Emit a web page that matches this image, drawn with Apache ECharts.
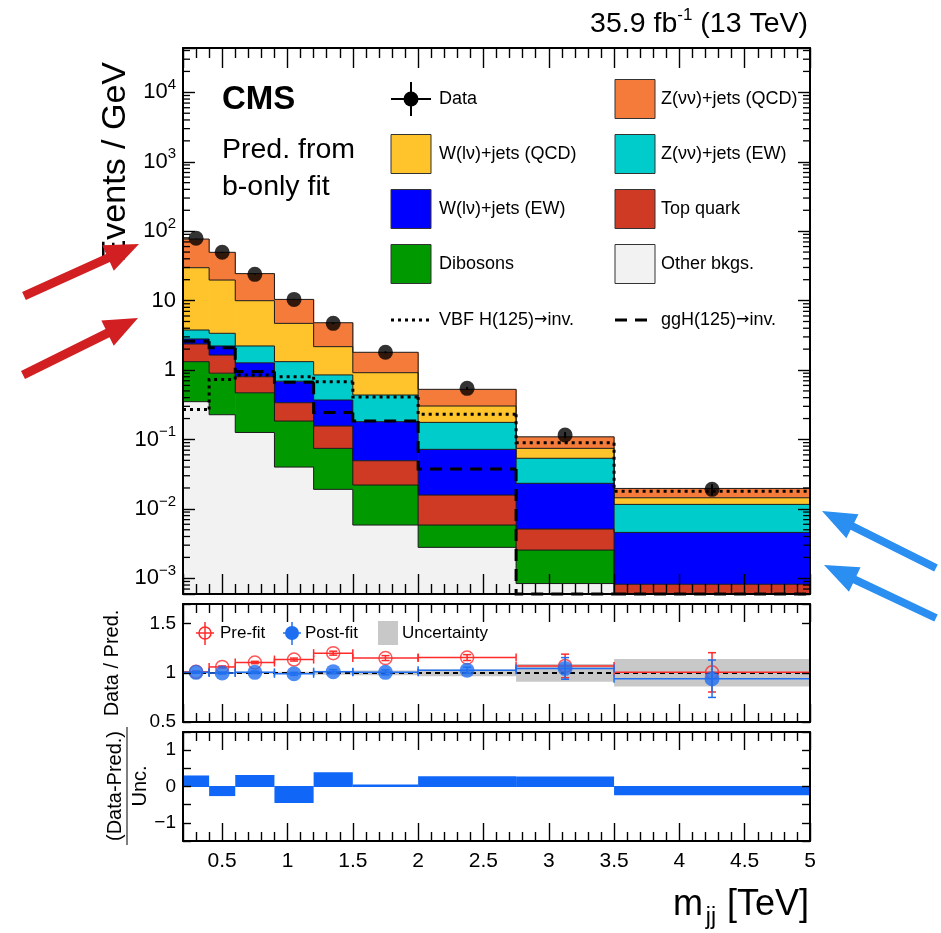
<!DOCTYPE html>
<html>
<head>
<meta charset="utf-8">
<title>m_jj distribution, VBF H(125) to invisible search</title>
<script src="https://cdn.jsdelivr.net/npm/echarts@6.0.0/dist/echarts.min.js"></script>
<style>
html, body { margin: 0; padding: 0; background: #ffffff; }
#chart { width: 941px; height: 933px; }
</style>
</head>
<body>
<div id="chart"></div>
<script>
// m_jj bin edges (TeV)
const binEdges = [0.2, 0.4, 0.6, 0.9, 1.2, 1.5, 2.0, 2.75, 3.5, 5.0];

// Background predictions from the b-only fit, Events / GeV, listed bottom to top of the stack
const otherBkgs = [0.35, 0.227, 0.126, 0.040, 0.0191, 0.00585, 0.00279, 0.00084, 0.0002];
const dibosons  = [0.97, 0.673, 0.344, 0.144, 0.0553, 0.0162, 0.00306, 0.00171, 0.0002];
const topQuark  = [1.05, 0.74, 0.33, 0.154, 0.0816, 0.0273, 0.00995, 0.00257, 0.00042];
const wlnuEW    = [0.43, 0.58, 0.47, 0.352, 0.214, 0.131, 0.0562, 0.0182, 0.00376];
const znunuEW   = [0.97, 1.16, 0.95, 0.63, 0.48, 0.256, 0.104, 0.0302, 0.00702];
const wlnuQCD   = [26.0, 16.4, 7.75, 3.38, 1.32, 0.479, 0.127, 0.0209, 0.00285];
const znunuQCD  = [47.2, 29.8, 14.5, 5.7, 2.63, 0.885, 0.224, 0.0346, 0.00525];

// Observed data, Events / GeV
const dataYield = [79, 49.7, 23.9, 10.4, 4.7, 1.80, 0.545, 0.116, 0.0191];
const dataErr   = [0.6, 0.5, 0.28, 0.19, 0.13, 0.06, 0.027, 0.012, 0.0036];

// Signal templates, Events / GeV
const vbfSignal = [0.27, 0.73, 0.85, 0.80, 0.68, 0.41, 0.23, 0.0897, 0.018];
const ggHSignal = [2.6, 2.1, 0.95, 0.665, 0.245, 0.184, 0.0374, 0.0004, 0.0003];

// Data / prediction ratios
const prefitRatio  = [1.01, 1.06, 1.105, 1.135, 1.20, 1.15, 1.155, 1.07, 1.005];
const prefitErr    = [0.008, 0.01, 0.012, 0.015, 0.02, 0.025, 0.03, 0.12, 0.20];
const postfitRatio = [1.005, 0.998, 1.005, 0.99, 1.012, 1.005, 1.027, 1.045, 0.94];
const postfitErr   = [0.008, 0.01, 0.012, 0.015, 0.02, 0.025, 0.03, 0.11, 0.19];
const uncBand      = [0.008, 0.008, 0.01, 0.012, 0.02, 0.025, 0.035, 0.09, 0.14];

// (Data - Pred.) / Unc.
const pullValues = [0.29, -0.25, 0.3, -0.44, 0.38, 0.04, 0.27, 0.26, -0.23];

const FONT = '"Liberation Sans", Arial, Helvetica, sans-serif';
const ARROW_FONT = '"DejaVu Sans", sans-serif';
const Y_MIN = 5.94e-4, Y_MAX = 4.35e4;

const COLORS = {
  other: '#f2f2f2', diboson: '#009a00', top: '#cf3a24', wEW: '#0000ff',
  zEW: '#00cccc', wQCD: '#ffc32b', zQCD: '#f47b3a',
  pre: '#ff2a2a', post: '#1f6ff0', pull: '#0f66f7', band: '#c8c8c8'
};

const stackLayers = [
  { name: 'Other bkgs.', values: otherBkgs, color: COLORS.other },
  { name: 'Dibosons', values: dibosons, color: COLORS.diboson },
  { name: 'Top quark', values: topQuark, color: COLORS.top },
  { name: 'W(lν)+jets (EW)', values: wlnuEW, color: COLORS.wEW },
  { name: 'Z(νν)+jets (EW)', values: znunuEW, color: COLORS.zEW },
  { name: 'W(lν)+jets (QCD)', values: wlnuQCD, color: COLORS.wQCD },
  { name: 'Z(νν)+jets (QCD)', values: znunuQCD, color: COLORS.zQCD }
];

// minor tick positions of the log axis (2..9 x 10^k)
const logMinorTicks = [];
for (let k = -4; k <= 4; k++) {
  for (let m = 2; m <= 9; m++) {
    const v = m * Math.pow(10, k);
    if (v > Y_MIN && v < Y_MAX) logMinorTicks.push(v);
  }
}

const clampY = (y, cs) => Math.min(Math.max(y, cs.y), cs.y + cs.height);

// ---------- series ----------
const series = [];

// stacked backgrounds: filled bins plus the step contour of each cumulative histogram
let base = binEdges.slice(0, -1).map(() => 0);
stackLayers.forEach(layer => {
  const tops = base.map((b, i) => b + layer.values[i]);
  const rows = layer.values.map((v, i) => [binEdges[i], binEdges[i + 1], base[i], tops[i], i > 0 ? tops[i - 1] : 0]);
  base = tops;
  series.push({
    type: 'custom', name: layer.name, xAxisIndex: 0, yAxisIndex: 0, z: 2,
    data: rows,
    renderItem: (params, api) => {
      const cs = params.coordSys;
      const lo = Math.max(api.value(2), Y_MIN), hi = Math.max(api.value(3), Y_MIN);
      const prev = Math.max(api.value(4), Y_MIN);
      const pA = api.coord([api.value(0), hi]);
      const pB = api.coord([api.value(1), lo]);
      const yTop = clampY(pA[1], cs), yBot = clampY(pB[1], cs);
      const yPrev = clampY(api.coord([api.value(0), prev])[1], cs);
      const right = Math.min(pB[0] + 0.6, cs.x + cs.width);
      const children = [];
      if (yBot - yTop > 0) {
        children.push({
          type: 'rect', z2: 0,
          shape: { x: pA[0], y: yTop, width: right - pA[0], height: yBot - yTop },
          style: { fill: layer.color }
        });
      }
      children.push({
        type: 'polyline', z2: 10,
        shape: { points: [[pA[0], yPrev], [pA[0], yTop], [pB[0], yTop]] },
        style: { stroke: '#1a1a1a', lineWidth: 1, fill: null }
      });
      return { type: 'group', children };
    }
  });
});

// signal step lines
function signalSeries(name, values, dash) {
  return {
    type: 'custom', name, xAxisIndex: 0, yAxisIndex: 0, z: 4,
    data: values.map((v, i) => [binEdges[i], binEdges[i + 1], i > 0 ? values[i - 1] : v, v]),
    renderItem: (params, api) => {
      const cs = params.coordSys;
      const yPrev = clampY(api.coord([api.value(0), api.value(2)])[1], cs);
      const pL = api.coord([api.value(0), api.value(3)]);
      const pR = api.coord([api.value(1), api.value(3)]);
      const y = clampY(pL[1], cs);
      return {
        type: 'polyline',
        shape: { points: [[pL[0], yPrev], [pL[0], y], [pR[0], y]] },
        style: { stroke: '#000', lineWidth: 3, fill: null, lineDash: dash }
      };
    }
  };
}
series.push(signalSeries('VBF H(125)→inv.', vbfSignal, [3, 4]));
series.push(signalSeries('ggH(125)→inv.', ggHSignal, [12, 8]));

// data: error bars and markers
series.push({
  type: 'custom', name: 'Data errors', xAxisIndex: 0, yAxisIndex: 0, z: 5,
  data: dataYield.map((v, i) => [(binEdges[i] + binEdges[i + 1]) / 2, v, dataErr[i]]),
  renderItem: (params, api) => {
    const x = api.value(0), v = api.value(1), e = api.value(2);
    const pT = api.coord([x, v + e]), pB = api.coord([x, Math.max(v - e, Y_MIN)]);
    return { type: 'line', shape: { x1: pT[0], y1: pT[1], x2: pB[0], y2: pB[1] }, style: { stroke: '#000', lineWidth: 2 } };
  }
});
series.push({
  type: 'scatter', name: 'Data', xAxisIndex: 0, yAxisIndex: 0, z: 6,
  symbol: 'circle', symbolSize: 15, itemStyle: { color: '#000' },
  data: dataYield.map((v, i) => [(binEdges[i] + binEdges[i + 1]) / 2, v])
});

// log-axis minor ticks on both sides of the main frame
series.push({
  type: 'custom', name: 'log minor ticks', xAxisIndex: 0, yAxisIndex: 0, z: 30, silent: true,
  data: logMinorTicks.map(v => [binEdges[0], v]),
  renderItem: (params, api) => {
    const cs = params.coordSys;
    const y = api.coord([api.value(0), api.value(1)])[1];
    return {
      type: 'group', children: [
        { type: 'line', shape: { x1: cs.x, y1: y, x2: cs.x + 7, y2: y }, style: { stroke: '#000', lineWidth: 1.3 } },
        { type: 'line', shape: { x1: cs.x + cs.width - 7, y1: y, x2: cs.x + cs.width, y2: y }, style: { stroke: '#000', lineWidth: 1.3 } }
      ]
    };
  }
});

// ratio panel: uncertainty band with the unity line
series.push({
  type: 'custom', name: 'Uncertainty', xAxisIndex: 2, yAxisIndex: 2, z: 2,
  data: uncBand.map((u, i) => [binEdges[i], binEdges[i + 1], 1 - u, 1 + u]),
  renderItem: (params, api) => {
    const pA = api.coord([api.value(0), api.value(3)]);
    const pB = api.coord([api.value(1), api.value(2)]);
    return { type: 'rect', shape: { x: pA[0], y: pA[1], width: pB[0] - pA[0], height: pB[1] - pA[1] }, style: { fill: COLORS.band } };
  },
  markLine: {
    silent: true, symbol: 'none', z: 3, label: { show: false },
    lineStyle: { color: '#000', width: 2, type: [5, 4] },
    data: [{ yAxis: 1 }]
  }
});

function ratioErrSeries(name, vals, errs, color, z) {
  return {
    type: 'custom', name, xAxisIndex: 2, yAxisIndex: 2, z,
    data: vals.map((v, i) => [binEdges[i], binEdges[i + 1], v, errs[i]]),
    renderItem: (params, api) => {
      const x0 = api.value(0), x1 = api.value(1), v = api.value(2), e = api.value(3);
      const xc = (x0 + x1) / 2;
      const pL = api.coord([x0, v]), pR = api.coord([x1, v]);
      const pT = api.coord([xc, v + e]), pB = api.coord([xc, v - e]);
      const st = { stroke: color, lineWidth: 1.5 };
      const cap = 4;
      return {
        type: 'group', children: [
          { type: 'line', shape: { x1: pL[0], y1: pL[1], x2: pR[0], y2: pR[1] }, style: st },
          { type: 'line', shape: { x1: pL[0], y1: pL[1] - cap, x2: pL[0], y2: pL[1] + cap }, style: st },
          { type: 'line', shape: { x1: pR[0], y1: pR[1] - cap, x2: pR[0], y2: pR[1] + cap }, style: st },
          { type: 'line', shape: { x1: pT[0], y1: pT[1], x2: pB[0], y2: pB[1] }, style: st },
          { type: 'line', shape: { x1: pT[0] - cap, y1: pT[1], x2: pT[0] + cap, y2: pT[1] }, style: st },
          { type: 'line', shape: { x1: pB[0] - cap, y1: pB[1], x2: pB[0] + cap, y2: pB[1] }, style: st }
        ]
      };
    }
  };
}
series.push(ratioErrSeries('Pre-fit errors', prefitRatio, prefitErr, COLORS.pre, 4));
series.push({
  type: 'scatter', name: 'Pre-fit', xAxisIndex: 2, yAxisIndex: 2, z: 5,
  symbol: 'circle', symbolSize: 13,
  itemStyle: { color: 'rgba(0,0,0,0)', borderColor: COLORS.pre, borderWidth: 1.5 },
  data: prefitRatio.map((v, i) => [(binEdges[i] + binEdges[i + 1]) / 2, v])
});
series.push(ratioErrSeries('Post-fit errors', postfitRatio, postfitErr, COLORS.post, 6));
series.push({
  type: 'scatter', name: 'Post-fit', xAxisIndex: 2, yAxisIndex: 2, z: 7,
  symbol: 'circle', symbolSize: 15, itemStyle: { color: COLORS.post },
  data: postfitRatio.map((v, i) => [(binEdges[i] + binEdges[i + 1]) / 2, v])
});

// pull panel
series.push({
  type: 'custom', name: 'Pull', xAxisIndex: 4, yAxisIndex: 4, z: 2,
  data: pullValues.map((v, i) => [binEdges[i], binEdges[i + 1], v]),
  renderItem: (params, api) => {
    const v = api.value(2);
    const pA = api.coord([api.value(0), Math.max(v, 0)]);
    const pB = api.coord([api.value(1), Math.min(v, 0)]);
    return { type: 'rect', shape: { x: pA[0], y: pA[1] - 0.5, width: pB[0] - pA[0], height: Math.max(pB[1] - pA[1], 1) + 1 }, style: { fill: COLORS.pull } };
  }
});

// ---------- axes ----------
const GRIDS = [
  { left: 183, top: 48, width: 627, height: 546 },
  { left: 183, top: 604, width: 627, height: 118 },
  { left: 183, top: 732, width: 627, height: 109 }
];

function xAxisCfg(gridIndex, position, showLabels, major, minor) {
  return {
    type: 'value', gridIndex, position, min: 0.2, max: 5, splitNumber: 10, z: 20,
    axisLine: { show: true, onZero: false, lineStyle: { color: '#000', width: 2 } },
    axisTick: { show: true, inside: true, length: major, lineStyle: { color: '#000', width: 1.4 } },
    minorTick: { show: true, splitNumber: 5, length: minor, lineStyle: { color: '#000', width: 1.4 } },
    splitLine: { show: false }, minorSplitLine: { show: false },
    axisLabel: {
      show: showLabels, margin: 10, color: '#000', fontFamily: FONT, fontSize: 21,
      showMinLabel: true, showMaxLabel: true,
      formatter: v => (Math.abs(v * 2 - Math.round(v * 2)) < 1e-6 ? String(+v.toFixed(1)) : '')
    }
  };
}

const xAxes = [
  xAxisCfg(0, 'bottom', false, 20, 10), xAxisCfg(0, 'top', false, 20, 10),
  xAxisCfg(1, 'bottom', false, 18, 9), xAxisCfg(1, 'top', false, 18, 9),
  xAxisCfg(2, 'bottom', true, 18, 9), xAxisCfg(2, 'top', false, 18, 9)
];

function logAxisCfg(position, showLabels) {
  return {
    type: 'log', logBase: 10, gridIndex: 0, position, min: Y_MIN, max: Y_MAX, splitNumber: 8, z: 20,
    axisLine: { show: true, onZero: false, lineStyle: { color: '#000', width: 2 } },
    axisTick: { show: true, inside: true, length: 12, lineStyle: { color: '#000', width: 1.4 } },
    splitLine: { show: false },
    axisLabel: {
      show: showLabels, margin: 7, color: '#000', fontFamily: FONT, fontSize: 22,
      showMinLabel: true, showMaxLabel: true,
      formatter: v => {
        const le = Math.log10(v), e = Math.round(le);
        if (Math.abs(le - e) > 0.01) return '';
        if (e === 0) return '{b|1}';
        if (e === 1) return '{b|10}';
        return '{b|10}{s|' + (e < 0 ? '\u2212' + (-e) : String(e)) + '}';
      },
      rich: {
        b: { fontSize: 22, fontFamily: FONT, color: '#000', lineHeight: 30 },
        s: { fontSize: 15, fontFamily: FONT, color: '#000', lineHeight: 15, verticalAlign: 'top' }
      }
    }
  };
}

function linAxisCfg(gridIndex, position, showLabels, min, max, interval, fmt) {
  return {
    type: 'value', gridIndex, position, min, max, interval, z: 20,
    axisLine: { show: true, onZero: false, lineStyle: { color: '#000', width: 2 } },
    axisTick: { show: true, inside: true, length: 8, lineStyle: { color: '#000', width: 1.4 } },
    splitLine: { show: false },
    axisLabel: {
      show: showLabels, margin: 7, color: '#000', fontFamily: FONT, fontSize: 19,
      showMinLabel: true, showMaxLabel: true, formatter: fmt
    }
  };
}
const ratioFmt = v => ([0.5, 1, 1.5].some(t => Math.abs(v - t) < 1e-6) ? String(+v.toFixed(1)) : '');
const pullFmt = v => ([-1, 0, 1].some(t => Math.abs(v - t) < 1e-6) ? (v < -0.5 ? '\u2212' + Math.round(-v) : String(Math.round(v))) : '');

const yAxes = [
  logAxisCfg('left', true), logAxisCfg('right', false),
  linAxisCfg(1, 'left', true, 0.5, 1.7, 0.5, ratioFmt), linAxisCfg(1, 'right', false, 0.5, 1.7, 0.5, ratioFmt),
  linAxisCfg(2, 'left', true, -1.5, 1.5, 0.5, pullFmt), linAxisCfg(2, 'right', false, -1.5, 1.5, 0.5, pullFmt)
];
// the pull axis only carries ticks at the integers
yAxes[4].axisTick.interval = yAxes[5].axisTick.interval = i => i % 2 === 1;

// ---------- annotations ----------
function arrowShape(tail, tip, color, shaft, headLen, headW) {
  const dx = tip[0] - tail[0], dy = tip[1] - tail[1];
  const L = Math.hypot(dx, dy), ux = dx / L, uy = dy / L, nx = -uy, ny = ux;
  const bx = tip[0] - ux * headLen, by = tip[1] - uy * headLen;
  return {
    type: 'polygon', z: 200,
    shape: { points: [
      [tail[0] + nx * shaft / 2, tail[1] + ny * shaft / 2],
      [bx + nx * shaft / 2, by + ny * shaft / 2],
      [bx + nx * headW / 2, by + ny * headW / 2],
      [tip[0], tip[1]],
      [bx - nx * headW / 2, by - ny * headW / 2],
      [bx - nx * shaft / 2, by - ny * shaft / 2],
      [tail[0] - nx * shaft / 2, tail[1] - ny * shaft / 2]
    ] },
    style: { fill: color }
  };
}

function txt(x, y, text, size, opts) {
  const o = opts || {};
  return {
    type: 'text', x, y, z: 100, rotation: o.rotation || 0,
    style: {
      text, fill: o.color || '#000', fontFamily: FONT, fontSize: size, fontWeight: o.weight || 'normal',
      align: o.align || 'left', verticalAlign: 'middle', rich: o.rich
    }
  };
}

function legendBox(x, yc, color) {
  return { type: 'rect', z: 100, shape: { x, y: yc - 19.5, width: 40, height: 39 }, style: { fill: color, stroke: '#333', lineWidth: 1 } };
}

const C1 = 391, C2 = 615, T1 = 439, T2 = 661;
const ROWS = [99, 154, 209, 264, 320];
const LEG = 18;
const arrowRich = {
  t: { fontSize: LEG, fontFamily: FONT, color: '#000' },
  r: { fontSize: 16, fontFamily: ARROW_FONT, color: '#000' }
};

const graphic = [
  // header texts
  txt(808, 24, '{a|35.9 fb}{s|-1}{a| (13 TeV)}', 28.5, {
    align: 'right',
    rich: {
      a: { fontSize: 28.5, fontFamily: FONT, color: '#000', lineHeight: 34 },
      s: { fontSize: 17, fontFamily: FONT, color: '#000', lineHeight: 17, verticalAlign: 'top' }
    }
  }),
  txt(222, 100, 'CMS', 33, { weight: 'bold' }),
  txt(222, 150, 'Pred. from', 28.5),
  txt(222, 187, 'b-only fit', 28.5),

  // legend, left column
  { type: 'line', z: 100, shape: { x1: C1, y1: ROWS[0], x2: C1 + 40, y2: ROWS[0] }, style: { stroke: '#000', lineWidth: 2 } },
  { type: 'line', z: 100, shape: { x1: C1 + 20, y1: ROWS[0] - 17, x2: C1 + 20, y2: ROWS[0] + 17 }, style: { stroke: '#000', lineWidth: 2 } },
  { type: 'circle', z: 101, shape: { cx: C1 + 20, cy: ROWS[0], r: 7.5 }, style: { fill: '#000' } },
  txt(T1, ROWS[0], 'Data', LEG),
  legendBox(C1, ROWS[1], COLORS.wQCD), txt(T1, ROWS[1], 'W(lν)+jets (QCD)', LEG),
  legendBox(C1, ROWS[2], COLORS.wEW), txt(T1, ROWS[2], 'W(lν)+jets (EW)', LEG),
  legendBox(C1, ROWS[3], COLORS.diboson), txt(T1, ROWS[3], 'Dibosons', LEG),
  { type: 'line', z: 100, shape: { x1: C1, y1: ROWS[4], x2: C1 + 40, y2: ROWS[4] }, style: { stroke: '#000', lineWidth: 3, lineDash: [3, 4] } },
  txt(T1, ROWS[4], '{t|VBF H(125)}{r|\u2192}{t|inv.}', LEG, { rich: arrowRich }),

  // legend, right column
  legendBox(C2, ROWS[0], COLORS.zQCD), txt(T2, ROWS[0], 'Z(νν)+jets (QCD)', LEG),
  legendBox(C2, ROWS[1], COLORS.zEW), txt(T2, ROWS[1], 'Z(νν)+jets (EW)', LEG),
  legendBox(C2, ROWS[2], COLORS.top), txt(T2, ROWS[2], 'Top quark', LEG),
  legendBox(C2, ROWS[3], COLORS.other), txt(T2, ROWS[3], 'Other bkgs.', LEG),
  { type: 'line', z: 100, shape: { x1: C2, y1: ROWS[4], x2: C2 + 40, y2: ROWS[4] }, style: { stroke: '#000', lineWidth: 3, lineDash: [12, 8] } },
  txt(T2, ROWS[4], '{t|ggH(125)}{r|\u2192}{t|inv.}', LEG, { rich: arrowRich }),

  // ratio legend
  { type: 'line', z: 100, shape: { x1: 196, y1: 633, x2: 214, y2: 633 }, style: { stroke: COLORS.pre, lineWidth: 1.5 } },
  { type: 'line', z: 100, shape: { x1: 205, y1: 622, x2: 205, y2: 645 }, style: { stroke: COLORS.pre, lineWidth: 1.5 } },
  { type: 'circle', z: 101, shape: { cx: 205, cy: 633, r: 6 }, style: { fill: 'rgba(0,0,0,0)', stroke: COLORS.pre, lineWidth: 1.5 } },
  txt(220, 633, 'Pre-fit', 17),
  { type: 'line', z: 100, shape: { x1: 283, y1: 633, x2: 301, y2: 633 }, style: { stroke: COLORS.post, lineWidth: 1.5 } },
  { type: 'line', z: 100, shape: { x1: 292, y1: 622, x2: 292, y2: 645 }, style: { stroke: COLORS.post, lineWidth: 1.5 } },
  { type: 'circle', z: 101, shape: { cx: 292, cy: 633, r: 7 }, style: { fill: COLORS.post } },
  txt(305, 633, 'Post-fit', 17),
  { type: 'rect', z: 100, shape: { x: 378, y: 621, width: 20, height: 24 }, style: { fill: COLORS.band } },
  txt(402, 633, 'Uncertainty', 17),

  // axis titles
  txt(116, 62, 'Events / GeV', 34, { rotation: Math.PI / 2, align: 'right' }),
  txt(112, 663, 'Data / Pred.', 20, { rotation: Math.PI / 2, align: 'center' }),
  txt(115, 786, '(Data-Pred.)', 20, { rotation: Math.PI / 2, align: 'center' }),
  { type: 'line', z: 100, shape: { x1: 127, y1: 727, x2: 127, y2: 845 }, style: { stroke: '#555', lineWidth: 1.5 } },
  txt(140, 786, 'Unc.', 20, { rotation: Math.PI / 2, align: 'center' }),
  txt(809, 905, '[TeV]', 36, { align: 'right' }),
  txt(716, 918, 'jj', 23, { align: 'right' }),
  txt(703, 905, 'm', 36, { align: 'right' }),

  // pointer arrows
  arrowShape([24, 296], [139, 244], '#d21f22', 9, 34, 28),
  arrowShape([23, 375], [138, 318], '#d21f22', 9, 34, 28),
  arrowShape([936, 568], [822, 511], '#2a8ff0', 8, 34, 27),
  arrowShape([936, 618], [824, 565], '#2a8ff0', 8, 34, 27)
];

const chart = echarts.init(document.getElementById('chart'), null, { renderer: 'canvas' });
chart.setOption({
  animation: false,
  backgroundColor: '#ffffff',
  grid: GRIDS.map(g => Object.assign({ containLabel: false, outerBoundsMode: 'none' }, g)),
  xAxis: xAxes,
  yAxis: yAxes,
  series,
  graphic
});
</script>
</body>
</html>
